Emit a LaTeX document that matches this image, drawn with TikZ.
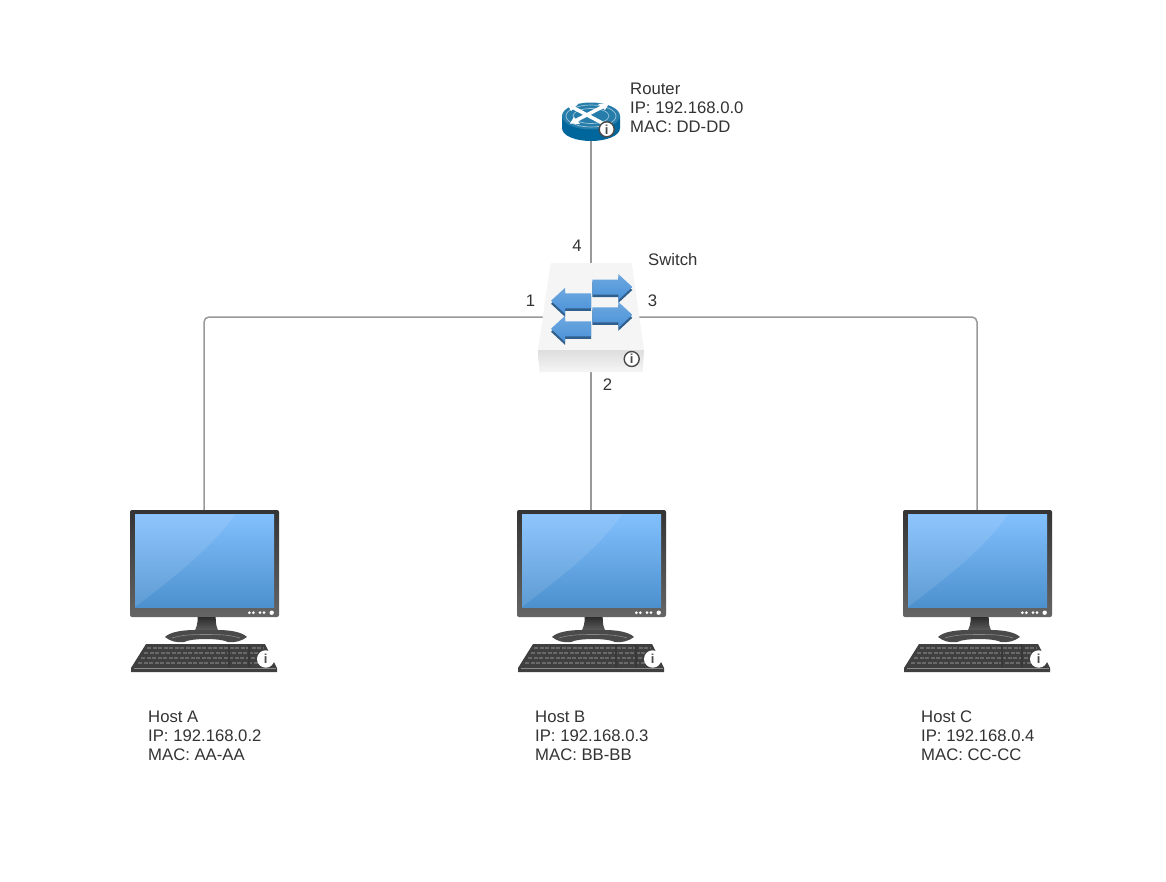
\documentclass[tikz,border=0pt]{standalone}
\usepackage{fontspec}
\setmainfont{Liberation Sans}
\definecolor{txtgray}{HTML}{333333}
\definecolor{linegray}{HTML}{999999}
\definecolor{bezel}{HTML}{4A4A4A}
\definecolor{screentop}{HTML}{82BFFD}
\definecolor{screenbot}{HTML}{4C91CE}
\definecolor{arrowblue}{HTML}{4A92D8}
\definecolor{routerblue}{HTML}{00669B}
\tikzset{
  link/.style={draw=linegray, line width=1.5pt, rounded corners=5pt},
  lbl/.style={inner sep=0pt, text=txtgray, font=\fontsize{16.7}{19}\selectfont},
  infolbl/.style={lbl, anchor=west, align=left},
  iconbox/.style={inner sep=0pt, outer sep=0pt, rectangle},
  infobadge/.style={circle, inner sep=0pt, minimum size=15pt, fill=white, draw=#1, line width=1.4pt, text=#1, font=\fontsize{13}{13}\selectfont\bfseries},
  % arrow on the switch, origin at the middle of its tail
  swarrow/.pic={
    \fill[fill=#1!65!black] (0,-5) -- (26,-5) -- (26,-10) -- (40,3) -- (26,16) -- (26,10) -- (0,10) -- cycle;
    \shade[top color=#1!80!white, bottom color=#1] (0,-7.5) -- (26,-7.5) -- (26,-13) -- (40,0) -- (26,13) -- (26,7.5) -- (0,7.5) -- cycle;
  },
  hosticon/.pic={
    % monitor
    \shade[top color=bezel!70!black, bottom color=bezel!85!white, rounded corners=2pt] (0,0) rectangle (149,107);
    \shade[top color=screentop, bottom color=screenbot] (5,4.5) rectangle (144,97);
    \fill[white, opacity=.1] (5,4.5) -- (105,4.5) .. controls (80,40) and (40,70) .. (5,97) -- cycle;
    \fill[white] (119.3,102.7) circle (1.5) (123.3,102.7) circle (1.5) (130,102.7) circle (1.5) (134,102.7) circle (1.5) (141.7,102.7) circle (2.2);
    % stand
    \shade[top color=bezel!60!black, bottom color=bezel!85!white] (67.7,107) -- (85.7,107) .. controls (85.7,113) and (86,118) .. (90,123) -- (63,123) .. controls (67,118) and (67.7,113) .. (67.7,107) -- cycle;
    \fill[bezel] (35,127) .. controls (40,122) and (52,120) .. (65,120) -- (88,120) .. controls (100,120) and (112,122) .. (117,127) .. controls (112,131) and (104,133) .. (98,132) .. controls (90,128) and (62,128) .. (54,132) .. controls (46,133) and (40,131) .. (35,127) -- cycle;
    \draw[white, opacity=.35, line width=.6pt] (42,128) .. controls (52,125) and (60,124.5) .. (76,124.5) .. controls (92,124.5) and (100,125) .. (110,128);
    % keyboard
    \fill[bezel!85!black] (16,134) -- (135,134) -- (147,158) -- (147,162) -- (1,162) -- (1,158) -- cycle;
    \foreach \yy/\xa/\xb in {138/17/134, 143/14/137, 148/11/140, 153/8/143}
      \draw[white, opacity=.22, line width=1.1pt, dash pattern=on 4pt off 1.5pt] (\xa,\yy) -- (\xb,\yy);
    \draw[white, opacity=.4, line width=1pt] (4,158) -- (146,158);
    \fill[bezel!75!black] (98,135) rectangle (100,157) (118,135) rectangle (120,157);
    \node[infobadge=bezel, draw=white, minimum size=16pt] (info) at (135.7,149) {i};
  }
}
\begin{document}
\begin{tikzpicture}[x=1pt, y=-1pt]
\useasboundingbox (0,0) rectangle (1166,881);
\fill[white] (0,0) rectangle (1166,881);

\node[iconbox, minimum width=58pt, minimum height=39pt] (router) at (591,121.5) {};
\node[iconbox, minimum width=94pt, minimum height=108pt] (switch) at (591,317) {};
\node[iconbox, minimum width=148pt, minimum height=162pt] (hostA) at (204,591) {};
\node[iconbox, minimum width=148pt, minimum height=162pt] (hostB) at (591,591) {};
\node[iconbox, minimum width=148pt, minimum height=162pt] (hostC) at (977,591) {};

\draw[link] (router.south) -- (switch.north);
\draw[link] (switch.west) -| (hostA.north);
\draw[link] (switch.south) -- (switch.south |- hostB.north);
\draw[link] (switch.east) -| (hostC.north);

% router
\fill[routerblue] (562,116) -- (562,128) .. controls (562,136) and (576,141) .. (591,141) .. controls (606,141) and (620,136) .. (620,128) -- (620,116) -- cycle;
\fill[routerblue!85!white] (591,116) ellipse (29 and 13.5);
\draw[white, opacity=.55, line width=.7pt] (591,116) ellipse (25 and 11) (591,116) ellipse (18 and 7.5);
\draw[white, line width=3.5pt] (572,107) -- (606,125) (604,106) -- (575,121);
\fill[white] (567,103.5) -- (578,104) -- (571,111) -- cycle (609,103.5) -- (598,104) -- (605,110) -- cycle (570,123.5) -- (580,124) -- (574,117) -- cycle;
\node[infobadge=bezel] (routerinfo) at (606.7,129.3) {i};

% switch
\fill[black!4] (550.7,263) -- (631.7,263) -- (644,350) -- (538,350) -- cycle;
\shade[top color=black!13, bottom color=black!4] (538,350) -- (644,350) -- (642.7,372) -- (539.5,372) -- cycle;
\pic at (592.3,287) {swarrow=arrowblue};
\pic at (592.3,314.8) {swarrow=arrowblue};
\pic[xscale=-1] at (591,300.8) {swarrow=arrowblue};
\pic[xscale=-1] at (591,328.8) {swarrow=arrowblue};
\node[infobadge=bezel] (switchinfo) at (631.7,359) {i};

% hosts
\pic (iconA) at (hostA.north west) {hosticon};
\pic (iconB) at (hostB.north west) {hosticon};
\pic (iconC) at (hostC.north west) {hosticon};

\node[infolbl] (routerlbl) at (630,108) {Router\\IP: 192.168.0.0\\MAC: DD-DD};
\node[infolbl] (switchlbl) at (648,260) {Switch};
\node[infolbl] (hostAlbl) at (148,736) {Host A\\IP: 192.168.0.2\\MAC: AA-AA};
\node[infolbl] (hostBlbl) at (535,736) {Host B\\IP: 192.168.0.3\\MAC: BB-BB};
\node[infolbl] (hostClbl) at (921,736) {Host C\\IP: 192.168.0.4\\MAC: CC-CC};

\node[lbl] (port1) at (530.5,301) {1};
\node[lbl] (port2) at (607.5,385) {2};
\node[lbl] (port3) at (652.5,301) {3};
\node[lbl] (port4) at (577,246) {4};
\end{tikzpicture}
\end{document}
